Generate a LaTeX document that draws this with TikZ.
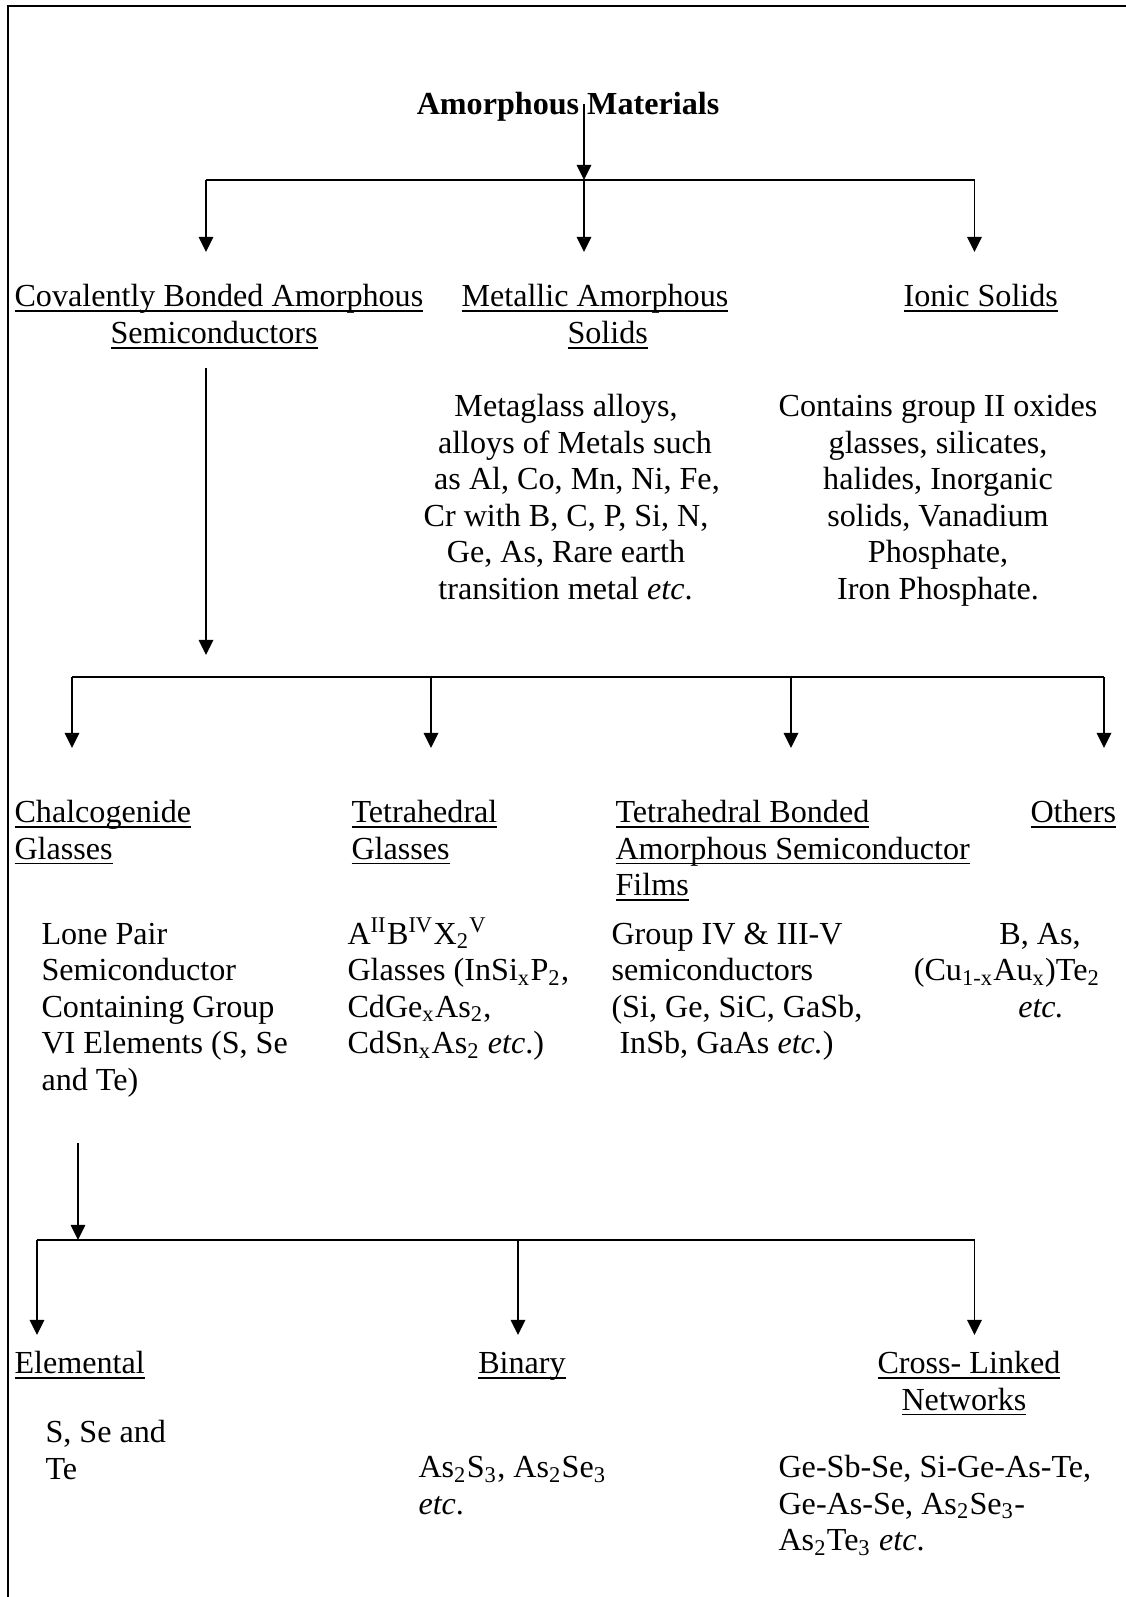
\documentclass[tikz,border=0pt]{standalone}
\usepackage{fontspec}
\setmainfont{Liberation Serif}
\usetikzlibrary{arrows.meta}
\newcommand\ulx[1]{\setbox0=\hbox{#1}\makebox[0pt][l]{\raisebox{-1.9pt}{\rule{\wd0}{0.6pt}}}\box0}
\begin{document}
\begin{tikzpicture}[x=0.3704pt,y=-0.3704pt,
  txt/.style={inner sep=0pt,font=\fontsize{11.9pt}{13.5pt}\selectfont},
  lt/.style={txt,anchor=base west,yshift=-0.6pt},
  ct/.style={txt,anchor=base,yshift=-0.6pt},
  conn/.style={line width=0.55pt},
  bar/.style={line width=0.9pt},
  arr/.style={conn,-{Triangle[length=5.6pt,width=5.4pt]}}]
\useasboundingbox (0,0) rectangle (1126,1597);
% frame
\draw[line width=0.8pt] (8,1600) -- (8,6) -- (1130,6);
% title
\node[ct,font=\fontsize{11.9pt}{13.5pt}\selectfont\bfseries] (title) at (568,113) {Amorphous Materials};
% level 1 connectors
\coordinate (t0) at (584,104);
\coordinate (b1m) at (584,180);
\coordinate (b1l) at (206,180);
\coordinate (b1r) at (974.5,180);
\coordinate (a1l) at (206,252);
\coordinate (a1m) at (584,252);
\coordinate (a1r) at (974.5,252);
\draw[arr] (t0) -- (b1m);
\draw[bar] (b1l) -- (b1r);
\draw[arr] (b1l) -- (a1l);
\draw[arr] (b1m) -- (a1m);
\draw[arr] (b1r) -- (a1r);
% level 2 labels
\node[lt] (cov1) at (14,305) {\ulx{Covalently Bonded Amorphous}};
\node[lt] (cov2) at (110,342) {\ulx{Semiconductors}};
\node[lt] (met1) at (461,305) {\ulx{Metallic Amorphous}};
\node[lt] (met2) at (567,342) {\ulx{Solids}};
\node[lt] (ion1) at (903,305) {\ulx{Ionic Solids}};
% metallic description
\node[ct] (m1) at (566,415) {Metaglass alloys,};
\node[ct] (m2) at (575,451.5) {alloys of Metals such};
\node[ct] (m3) at (577,488) {as Al, Co, Mn, Ni, Fe,};
\node[ct] (m4) at (566,524.5) {Cr with B, C, P, Si, N,};
\node[ct] (m5) at (566,561) {Ge, As, Rare earth};
\node[ct] (m6) at (565.5,597.5) {transition metal \textit{etc}.};
% ionic description
\node[ct] (i1) at (938,415) {Contains group II oxides};
\node[ct] (i2) at (938,451.5) {glasses, silicates,};
\node[ct] (i3) at (938,488) {halides, Inorganic};
\node[ct] (i4) at (938,524.5) {solids, Vanadium};
\node[ct] (i5) at (938,561) {Phosphate,};
\node[ct] (i6) at (938,597.5) {Iron Phosphate.};
% level 2 connectors
\coordinate (c0) at (206,368);
\coordinate (c1) at (206,655);
\draw[arr] (c0) -- (c1);
\coordinate (b2a) at (72,677);
\coordinate (b2b) at (431,677);
\coordinate (b2c) at (791,677);
\coordinate (b2d) at (1104,677);
\coordinate (a2a) at (72,748);
\coordinate (a2b) at (431,748);
\coordinate (a2c) at (791,748);
\coordinate (a2d) at (1104,748);
\draw[bar] (b2a) -- (b2d);
\draw[arr] (b2a) -- (a2a);
\draw[arr] (b2b) -- (a2b);
\draw[arr] (b2c) -- (a2c);
\draw[arr] (b2d) -- (a2d);
% level 3 labels
\node[lt] (ch1) at (14,821) {\ulx{Chalcogenide}};
\node[lt] (ch2) at (14,857.5) {\ulx{Glasses}};
\node[lt] (te1) at (351,821) {\ulx{Tetrahedral}};
\node[lt] (te2) at (351,857.5) {\ulx{Glasses}};
\node[lt] (tb1) at (615,821) {\ulx{Tetrahedral Bonded}};
\node[lt] (tb2) at (615,857.5) {\ulx{Amorphous Semiconductor}};
\node[lt] (tb3) at (615,894) {\ulx{Films}};
\node[lt] (ot1) at (1030,821) {\ulx{Others}};
% level 3 descriptions
\node[lt] (cd1) at (41,942.5) {Lone Pair};
\node[lt] (cd2) at (41,979) {Semiconductor};
\node[lt] (cd3) at (41,1015.5) {Containing Group};
\node[lt] (cd4) at (41,1052) {VI Elements (S, Se};
\node[lt] (cd5) at (41,1088.5) {and Te)};
\node[lt] (td1) at (347,942.5) {A\textsuperscript{II}B\textsuperscript{IV}X\textsubscript{2}\textsuperscript{V}};
\node[lt] (td2) at (347,979) {Glasses (InSi\textsubscript{x}P\textsubscript{2},};
\node[lt] (td3) at (347,1015.5) {CdGe\textsubscript{x}As\textsubscript{2},};
\node[lt] (td4) at (347,1052) {CdSn\textsubscript{x}As\textsubscript{2} \textit{etc}.)};
\node[lt] (fd1) at (611,942.5) {Group IV \& III-V};
\node[lt] (fd2) at (611,979) {semiconductors};
\node[lt] (fd3) at (611,1015.5) {(Si, Ge, SiC, GaSb,};
\node[lt] (fd4) at (619,1052) {InSb, GaAs \textit{etc.})};
\node[ct] (od1) at (1040,942.5) {B, As,};
\node[ct] (od2) at (1007,979) {(Cu\textsubscript{1-x}Au\textsubscript{x})Te\textsubscript{2}};
\node[ct] (od3) at (1041,1015.5) {\textit{etc.}};
% level 3 connectors
\coordinate (h0) at (78,1143);
\coordinate (b3m) at (78,1240);
\draw[arr] (h0) -- (b3m);
\coordinate (b3a) at (37,1240);
\coordinate (b3b) at (518,1240);
\coordinate (b3c) at (974.5,1240);
\coordinate (a3a) at (37,1335);
\coordinate (a3b) at (518,1335);
\coordinate (a3c) at (974.5,1335);
\draw[bar] (b3a) -- (b3c);
\draw[arr] (b3a) -- (a3a);
\draw[arr] (b3b) -- (a3b);
\draw[arr] (b3c) -- (a3c);
% level 4 labels
\node[lt] (el1) at (14,1372) {\ulx{Elemental}};
\node[ct] (bi1) at (522,1372) {\ulx{Binary}};
\node[ct] (cl1) at (969,1372) {\ulx{Cross- Linked}};
\node[ct] (cl2) at (964,1408.5) {\ulx{Networks}};
% level 4 descriptions
\node[lt] (ed1) at (45,1441) {S, Se and};
\node[lt] (ed2) at (45,1477.5) {Te};
\node[lt] (bd1) at (418,1476) {As\textsubscript{2}S\textsubscript{3}, As\textsubscript{2}Se\textsubscript{3}};
\node[lt] (bd2) at (418,1512.5) {\textit{etc}.};
\node[lt] (xd1) at (778,1476) {Ge-Sb-Se, Si-Ge-As-Te,};
\node[lt] (xd2) at (778,1512.5) {Ge-As-Se, As\textsubscript{2}Se\textsubscript{3}-};
\node[lt] (xd3) at (778,1549) {As\textsubscript{2}Te\textsubscript{3} \textit{etc}.};
\end{tikzpicture}
\end{document}
